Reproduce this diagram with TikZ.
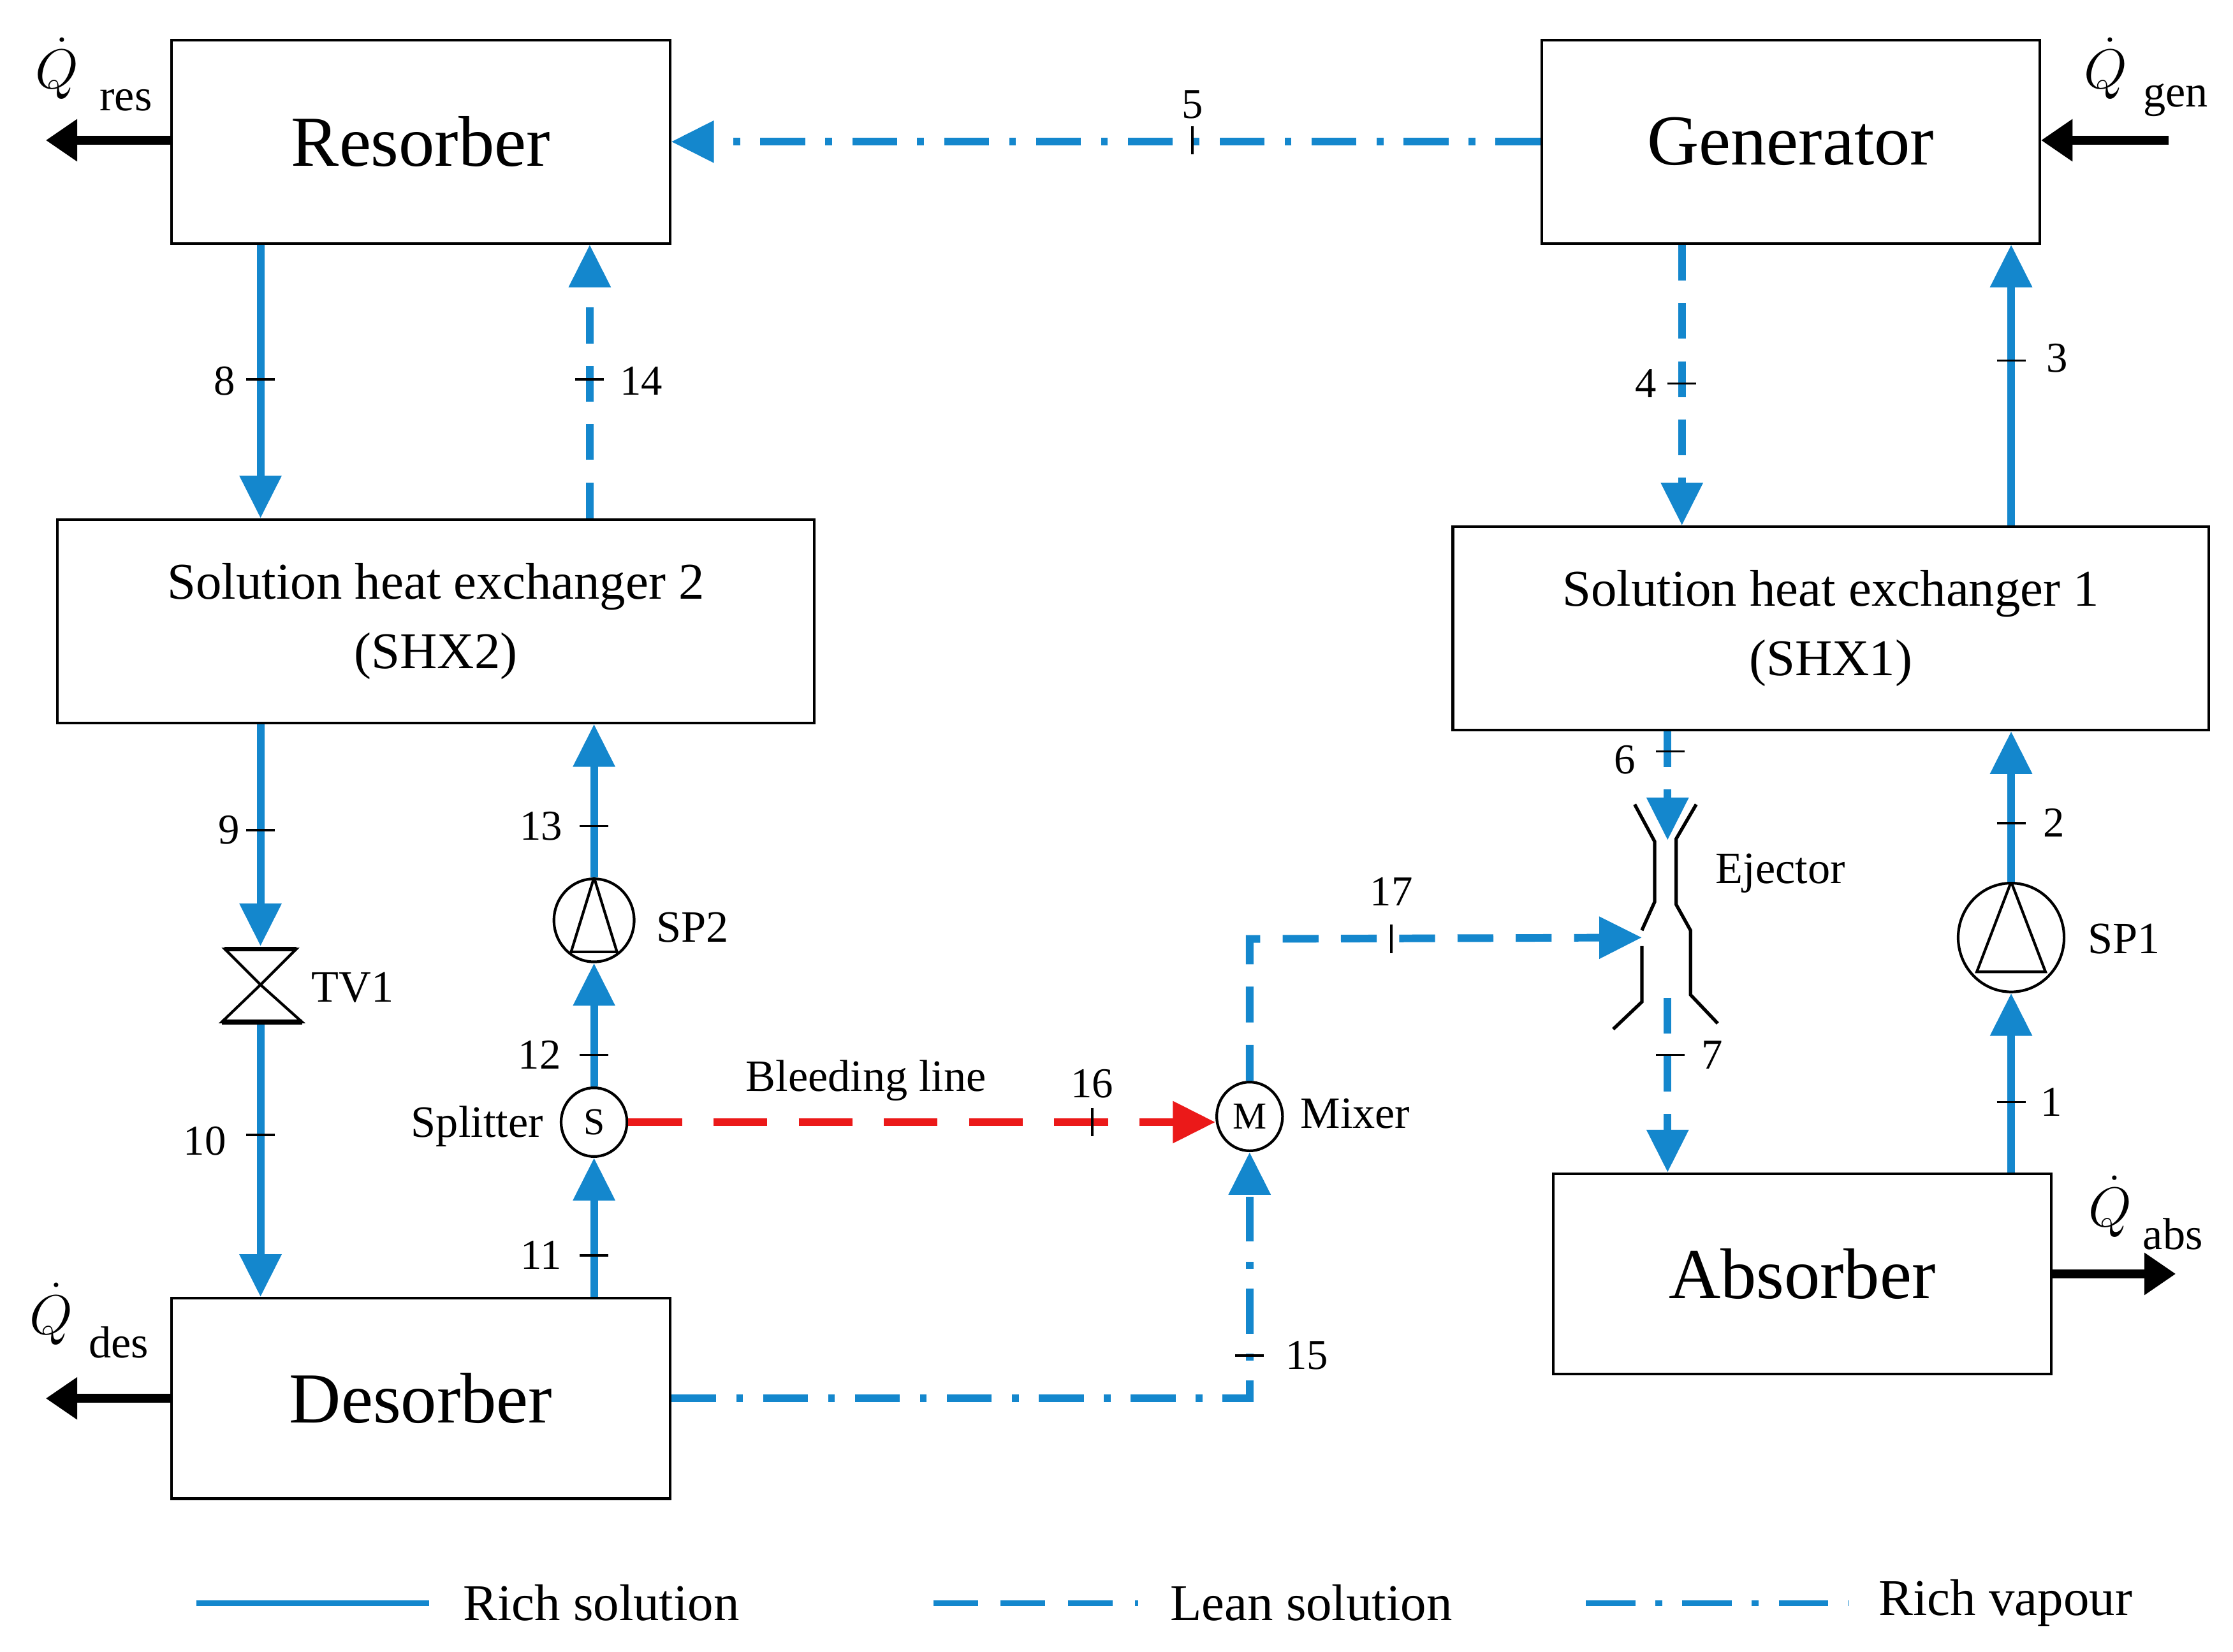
\documentclass[tikz,border=0pt]{standalone}
\usepackage{fontspec}
\setmainfont{Liberation Serif}
\usetikzlibrary{arrows.meta,shapes.geometric}
\definecolor{bl}{RGB}{20,135,205}
\definecolor{rd}{RGB}{235,25,25}
\begin{document}
\begin{tikzpicture}[x=0.02245cm,y=-0.02245cm,
  box/.style={draw,line width=1.2pt,inner sep=0pt,align=center},
  ln/.style={line width=3.4pt,color=bl},
  lean/.style={ln,dash pattern=on 16pt off 10pt},
  vap/.style={ln,dash pattern=on 20pt off 9pt on 3pt off 9pt},
  arr/.style={-{Triangle[length=19pt,width=18pt]}},
  qarr/.style={line width=4pt,-{Triangle[length=14pt,width=18pt]}},
  tk/.style={line width=1pt},
  num/.style={font=\fontsize{19}{22}\selectfont},
  lab/.style={font=\fontsize{20}{24}\selectfont},
  sub/.style={font=\fontsize{20}{24}\selectfont,inner sep=0pt},
  big/.style={font=\fontsize{32}{36}\selectfont},
  qq/.style={font=\fontsize{30}{34}\selectfont,inner sep=0pt},
  mid/.style={font=\fontsize{23}{31}\selectfont},
  sym/.style={draw,ellipse,line width=1.2pt,inner sep=0pt}]
\useasboundingbox (0,0) rectangle (1560,1154);
% boxes
\node[box,big,minimum width=348*0.02245cm,minimum height=142*0.02245cm] (res) at (294,99) {Resorber};
\node[box,big,minimum width=348*0.02245cm,minimum height=142*0.02245cm] (gen) at (1251,99) {Generator};
\node[box,mid,minimum width=529*0.02245cm,minimum height=142*0.02245cm] (shx2) at (304.5,434) {Solution heat exchanger 2\\(SHX2)};
\node[box,mid,minimum width=528*0.02245cm,minimum height=142*0.02245cm] (shx1) at (1279,439) {Solution heat exchanger 1\\(SHX1)};
\node[box,big,minimum width=348*0.02245cm,minimum height=140*0.02245cm] (abs) at (1259,890) {Absorber};
\node[box,big,minimum width=348*0.02245cm,minimum height=140*0.02245cm] (des) at (294,977) {Desorber};
% heat arrows
\coordinate (qr) at (32,98); \coordinate (qg) at (1515,98);
\coordinate (qd) at (32,977); \coordinate (qa) at (1520,890);
\draw[qarr] (res.west |- qr) -- (qr);
\draw[qarr] (qg) -- (gen.east |- qg);
\draw[qarr] (des.west |- qd) -- (qd);
\draw[qarr] (abs.east |- qa) -- (qa);
\node[qq] (tq1) at (40,48) {$\dot{Q}$}; \node[sub] (ts1) at (88,70) {res};
\node[qq] (tq2) at (1471,48) {$\dot{Q}$}; \node[sub] (ts2) at (1520,70) {gen};
\node[qq] (tq3) at (36,918) {$\dot{Q}$}; \node[sub] (ts3) at (83,938) {des};
\node[qq] (tq4) at (1474,843) {$\dot{Q}$}; \node[sub] (ts4) at (1518,862) {abs};
% symbols
\node[sym,minimum width=46*0.02245cm,minimum height=48*0.02245cm,font=\fontsize{17}{20}\selectfont] (spl) at (415,784) {S};
\node[sym,minimum width=46*0.02245cm,minimum height=48*0.02245cm,font=\fontsize{17}{20}\selectfont] (mix) at (873,780) {M};
\node[sym,minimum width=56*0.02245cm,minimum height=58*0.02245cm] (sp2) at (415,643) {};
\node[sym,minimum width=74*0.02245cm,minimum height=76*0.02245cm] (sp1) at (1405,655) {};
\draw[line width=1.2pt] (sp2.north) -- (399,665) -- (431,665) -- cycle;
\draw[line width=1.2pt] (sp1.north) -- (1381,679) -- (1429,679) -- cycle;
\coordinate (tv) at (182,688);
\draw[line width=1.2pt] (157,663) -- (207,663) -- (tv) -- cycle;
\draw[line width=1.2pt] (tv) -- (155,714) -- (211,714) -- cycle;
\draw[line width=2.2pt] (157,663) -- (207,663) (155,714) -- (211,714);
% ejector
\coordinate (ejin) at (1147,655); \coordinate (ejtop) at (1165,587); \coordinate (ejbot) at (1165,697);
\draw[line width=1.5pt] (1142,562) -- (1156,588) -- (1156,630) -- (1147,650);
\draw[line width=1.5pt] (1147,661) -- (1147,700) -- (1127,719);
\draw[line width=1.5pt] (1185,562) -- (1171,586) -- (1171,632) -- (1181,650) -- (1181,695) -- (1200,715);
\node[lab,anchor=west] (tej) at (1193,610) {Ejector};
\node[lab,anchor=west] (tsp1) at (1453,656) {SP1};
\node[lab,anchor=west] (tsp2) at (453,648) {SP2};
\node[lab,anchor=west] (ttv) at (212,690) {TV1};
\node[lab,anchor=east] (tspl) at (385,787) {Splitter};
\node[lab,anchor=west] (tmix) at (903,778) {Mixer};
\node[lab] (tbl) at (605,755) {Bleeding line};
% flows
\draw[vap,arr] (gen.west) -- (res.east);
\draw[ln,arr] (res.south -| 182,0) -- (shx2.north -| 182,0);
\draw[lean,arr] (shx2.north -| 412,0) -- (res.south -| 412,0);
\draw[lean,arr] (gen.south -| 1175,0) -- (shx1.north -| 1175,0);
\draw[ln,arr] (shx1.north -| 1405,0) -- (gen.south -| 1405,0);
\draw[ln,arr] (shx2.south -| 182,0) -- (157,661 -| tv);
\draw[ln,arr] (182,716) -- (des.north -| 182,0);
\draw[ln,arr] (des.north -| spl) -- (spl.south);
\draw[ln,arr] (spl.north) -- (sp2.south);
\draw[ln,arr] (sp2.north) -- (shx2.south -| sp2);
\draw[line width=3.4pt,rd,dash pattern=on 24pt off 14pt,arr] (spl.east) -- (spl.east -| mix.west);
\draw[vap,arr] (des.east) -- (des.east -| mix) -- (mix.south);
\draw[lean,arr] (mix.north) -- (873,656) -- (ejin);
\draw[lean,arr] (shx1.south -| ejtop) -- (ejtop);
\draw[lean,arr] (ejbot) -- (abs.north -| ejbot);
\draw[ln,arr] (abs.north -| sp1) -- (sp1.south);
\draw[ln,arr] (sp1.north) -- (shx1.south -| sp1);
% ticks and numbers
\foreach \x/\y/\t/\lx/\ly in {182/265/8/157/266, 412/265/14/448/266, 1175/268/4/1150/268, 1405/252/3/1437/250,
  182/580/9/160/580, 415/577/13/378/577, 415/737/12/377/737, 415/877/11/378/877, 182/793/10/143/797,
  1405/575/2/1435/575, 1405/770/1/1433/770, 1167/525/6/1135/531, 1167/737/7/1196/737, 873/947/15/913/947}{
  \draw[tk] (\x-10,\y) -- (\x+10,\y);
  \node[num] at (\lx,\ly) {\t};}
\foreach \x/\y/\t/\lx/\ly in {833/98/5/833/73, 763/784/16/763/757, 972/656/17/972/623}{
  \draw[tk] (\x,\y-10) -- (\x,\y+10);
  \node[num] at (\lx,\ly) {\t};}
% legend
\coordinate (l1a) at (137,1120); \coordinate (l1b) at (300,1120);
\coordinate (l2a) at (652,1120); \coordinate (l2b) at (795,1120);
\coordinate (l3a) at (1108,1120); \coordinate (l3b) at (1292,1120);
\draw[line width=2.4pt,bl] (l1a) -- (l1b);
\draw[line width=2.4pt,bl,dash pattern=on 20pt off 10pt] (l2a) -- (l2b);
\draw[line width=2.4pt,bl,dash pattern=on 22pt off 9pt on 3pt off 9pt] (l3a) -- (l3b);
\node[mid,anchor=west] (lg1) at (318,1120) {Rich solution};
\node[mid,anchor=west] (lg2) at (812,1120) {Lean solution};
\node[mid,anchor=west] (lg3) at (1307,1120) {Rich vapour};
\end{tikzpicture}
\end{document}
